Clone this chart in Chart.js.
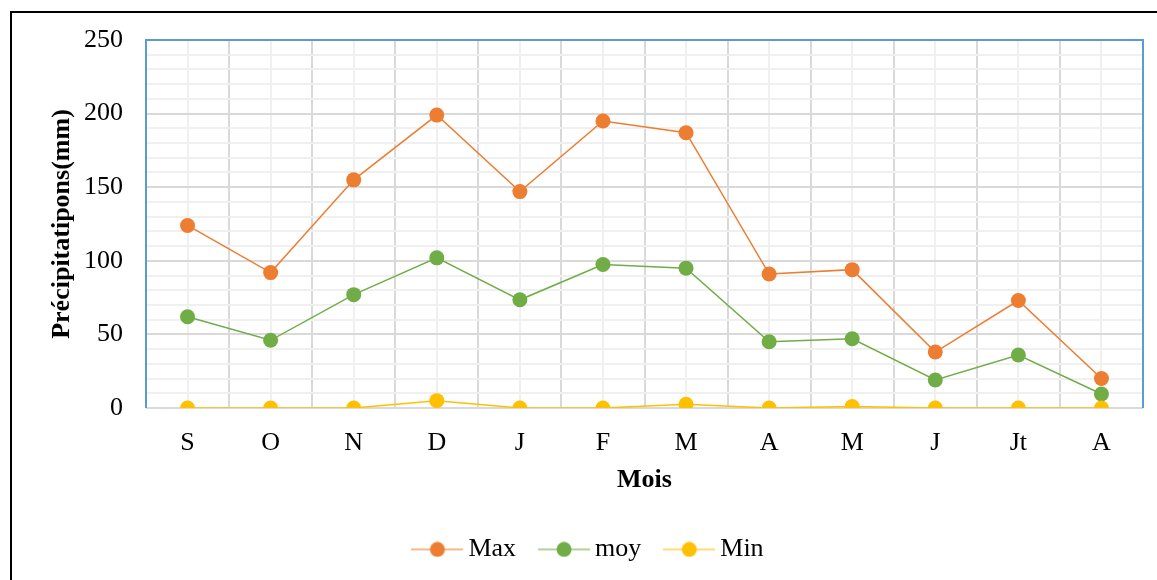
<!DOCTYPE html>
<html lang="fr">
<head>
<meta charset="utf-8">
<title>Précipitations mensuelles</title>
<script src="https://cdn.jsdelivr.net/npm/chart.js@4.4.0/dist/chart.umd.min.js"></script>
<style>
  html, body { margin: 0; padding: 0; background: #ffffff; overflow: hidden; }
  #wrap { position: relative; width: 1157px; height: 580px; }
  canvas { display: block; }
</style>
</head>
<body>
<div id="wrap"><canvas id="chart" width="1157" height="580"></canvas></div>
<script>
// Months of the hydrological year (September to August)
const months = ['S', 'O', 'N', 'D', 'J', 'F', 'M', 'A', 'M', 'J', 'Jt', 'A'];

// Monthly precipitation (mm)
const maxValues = [124, 92, 155, 199, 147, 195, 187, 91, 94, 38, 73, 20];
const moyValues = [62, 46, 77, 102, 73.5, 97.5, 95, 45, 47, 19, 36, 9.5];
const minValues = [0, 0, 0, 5, 0, 0, 2.5, 0, 1, 0, 0, 0];

const seriesNames = ['Max', 'moy', 'Min'];
const seriesColors = ['#ED7D31', '#70AD47', '#FFC000'];

const yMin = 0;
const yMax = 250;
const yMajorStep = 50;
const yMinorStep = 10;

const FONT = '"Liberation Serif", "Times New Roman", serif';
const MAJOR_GRID = '#d9d9d9';
const MINOR_GRID = '#f0f0f0';
const PLOT_BORDER = '#5B9BD5';

// Legend symbol: short line with a dot in the middle
function legendSymbol(color) {
  const c = document.createElement('canvas');
  c.width = 52;
  c.height = 16;
  const g = c.getContext('2d');
  g.strokeStyle = color;
  g.globalAlpha = 0.55;
  g.lineWidth = 2;
  g.beginPath();
  g.moveTo(0, 8);
  g.lineTo(52, 8);
  g.stroke();
  g.globalAlpha = 1;
  g.fillStyle = color;
  g.beginPath();
  g.arc(26, 8, 7.5, 0, Math.PI * 2);
  g.fill();
  return c;
}

// Outer frame, minor vertical lines at category centres, and blue plot border
const decorations = {
  id: 'decorations',
  beforeDraw(chart) {
    const { ctx, chartArea: a, scales } = chart;
    ctx.save();
    ctx.fillStyle = '#ffffff';
    ctx.fillRect(0, 0, chart.width, chart.height);
    // frame (continues past right and bottom edges)
    ctx.strokeStyle = '#000000';
    ctx.lineWidth = 2;
    ctx.beginPath();
    ctx.moveTo(11, chart.height + 5);
    ctx.lineTo(11, 12);
    ctx.lineTo(chart.width + 5, 12);
    ctx.stroke();
    // minor vertical grid at category centres
    ctx.strokeStyle = MINOR_GRID;
    ctx.lineWidth = 2;
    months.forEach((m, i) => {
      const x = Math.round(scales.x.getPixelForValue(i));
      ctx.beginPath();
      ctx.moveTo(x, a.top);
      ctx.lineTo(x, a.bottom);
      ctx.stroke();
    });
    ctx.restore();
  },
  beforeDatasetsDraw(chart) {
    const { ctx, chartArea: a } = chart;
    ctx.save();
    ctx.strokeStyle = PLOT_BORDER;
    ctx.lineWidth = 2;
    ctx.beginPath();
    ctx.moveTo(a.left, a.bottom);
    ctx.lineTo(a.left, a.top);
    ctx.lineTo(a.right, a.top);
    ctx.lineTo(a.right, a.bottom);
    ctx.stroke();
    ctx.restore();
  }
};

const valueSets = [maxValues, moyValues, minValues];
const datasets = valueSets.map((vals, i) => ({
  label: seriesNames[i],
  data: vals,
  borderColor: seriesColors[i],
  backgroundColor: seriesColors[i],
  borderWidth: 1.5,
  pointRadius: 7.5,
  pointHoverRadius: 7.5,
  pointBorderWidth: 0,
  pointBackgroundColor: seriesColors[i],
  tension: 0,
  fill: false,
  order: 3 - i
}));

new Chart(document.getElementById('chart'), {
  type: 'line',
  data: { labels: months, datasets },
  plugins: [decorations],
  options: {
    responsive: false,
    animation: false,
    devicePixelRatio: 1,
    layout: { padding: { top: 40, right: 14, bottom: 7.6, left: 40 } },
    plugins: {
      tooltip: { enabled: false },
      legend: {
        position: 'bottom',
        maxHeight: 70.6,
        labels: {
          usePointStyle: true,
          pointStyleWidth: 36,
          padding: 30,
          color: '#000000',
          font: { family: FONT, size: 26 },
          sort: (a, b) => a.datasetIndex - b.datasetIndex,
          generateLabels(chart) {
            return chart.data.datasets.map((ds, i) => ({
              text: ds.label,
              datasetIndex: i,
              pointStyle: legendSymbol(seriesColors[i]),
              fillStyle: seriesColors[i],
              strokeStyle: seriesColors[i],
              lineWidth: 0,
              hidden: false,
              fontColor: '#000000'
            }));
          }
        }
      }
    },
    scales: {
      x: {
        type: 'category',
        offset: true,
        afterFit(scale) { scale.height = 98.4; },
        grid: {
          offset: true,
          color: MAJOR_GRID,
          lineWidth: 2,
          drawTicks: false
        },
        border: { display: false },
        ticks: {
          padding: 20,
          color: '#000000',
          font: { family: FONT, size: 26 },
          maxRotation: 0,
          autoSkip: false
        },
        title: {
          display: true,
          text: 'Mois',
          color: '#000000',
          font: { family: FONT, size: 26, weight: 'bold' },
          padding: { top: 0, bottom: 10.8 }
        }
      },
      y: {
        min: yMin,
        max: yMax,
        afterFit(scale) { scale.width = 106; },
        grid: {
          color: (ctx) => (ctx.tick && ctx.tick.value % yMajorStep === 0 ? MAJOR_GRID : MINOR_GRID),
          lineWidth: 2,
          drawTicks: false
        },
        border: { display: false },
        ticks: {
          stepSize: yMinorStep,
          autoSkip: false,
          padding: 23,
          color: '#000000',
          font: { family: FONT, size: 26 },
          callback: (v) => (v % yMajorStep === 0 ? v : '')
        },
        title: {
          display: true,
          text: 'Précipitatipons(mm)',
          color: '#000000',
          font: { family: FONT, size: 26, weight: 'bold' },
          padding: { top: 6.4, bottom: 0 }
        }
      }
    }
  }
});
</script>
</body>
</html>
